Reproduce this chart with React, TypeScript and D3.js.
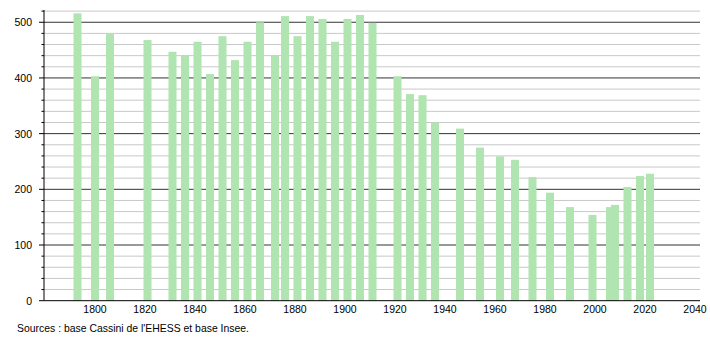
import React from "react";
import * as d3 from "d3";

const years = [1793, 1800, 1806, 1821, 1831, 1836, 1841, 1846, 1851, 1856, 1861, 1866, 1872, 1876, 1881, 1886, 1891, 1896, 1901, 1906, 1911, 1921, 1926, 1931, 1936, 1946, 1954, 1962, 1968, 1975, 1982, 1990, 1999, 2006, 2008, 2013, 2018, 2022];
const population = [516, 403, 480, 468, 447, 441, 465, 407, 475, 432, 465, 500, 441, 511, 475, 511, 506, 465, 506, 513, 499, 403, 371, 369, 320, 309, 275, 259, 253, 222, 194, 168, 154, 168, 172, 204, 224, 228];
const xTicks = [1800, 1820, 1840, 1860, 1880, 1900, 1920, 1940, 1960, 1980, 2000, 2020, 2040];
const yMajor = [0, 100, 200, 300, 400, 500];
const yMinor = d3.range(20, 540, 20).filter((v) => v % 100 !== 0);
const source = "Sources : base Cassini de l'EHESS et base Insee.";

export default function App() {
  const W = 710, H = 340;
  const left = 44, right = 700, top = 10, bottom = 300.7;
  const x = d3.scaleLinear().domain([1779.6, 2042]).range([left, right]);
  const y = d3.scaleLinear().domain([0, 522]).range([bottom, top]);
  const barW = 8;
  const font = "'Liberation Sans', Arial, sans-serif";
  return (
    <svg width={W} height={H} style={{ position: "absolute", left: 0, top: 0 }}>
      <rect width={W} height={H} fill="#fff" />
      {yMinor.map((v) => (
        <line key={"m" + v} x1={left} x2={right} y1={y(v)} y2={y(v)} stroke="#c8c8c8" strokeWidth={1} />
      ))}
      {yMajor.filter((v) => v > 0).map((v) => (
        <line key={"M" + v} x1={left} x2={right} y1={y(v)} y2={y(v)} stroke="#333" strokeWidth={1} />
      ))}
      {years.map((yr, i) => (
        <rect key={yr} x={x(yr) - barW / 2} y={y(population[i])} width={barW} height={y(0) - y(population[i])} fill="#b0e4b0" />
      ))}
      <line x1={left} x2={left} y1={top} y2={bottom} stroke="#000" strokeWidth={1} />
      <line x1={left} x2={right} y1={bottom} y2={bottom} stroke="#000" strokeWidth={1} />
      {yMinor.map((v) => (
        <line key={"mt" + v} x1={left - 2.5} x2={left} y1={y(v)} y2={y(v)} stroke="#000" strokeWidth={1} />
      ))}
      {yMajor.map((v) => (
        <line key={"Mt" + v} x1={left - 5} x2={left} y1={y(v)} y2={y(v)} stroke="#000" strokeWidth={1} />
      ))}
      {yMajor.map((v) => (
        <text key={"yl" + v} x={32} y={y(v) + 4} textAnchor="end" fontFamily={font} fontSize={10.5} fill="#000">{v}</text>
      ))}
      {xTicks.map((t) => (
        <text key={"xl" + t} x={x(t)} y={313} textAnchor="middle" fontFamily={font} fontSize={10.5} fill="#000">{t}</text>
      ))}
      <text x={17} y={332} fontFamily={font} fontSize={10.5} fill="#000" textLength={232} lengthAdjust="spacingAndGlyphs">{source}</text>
    </svg>
  );
}
